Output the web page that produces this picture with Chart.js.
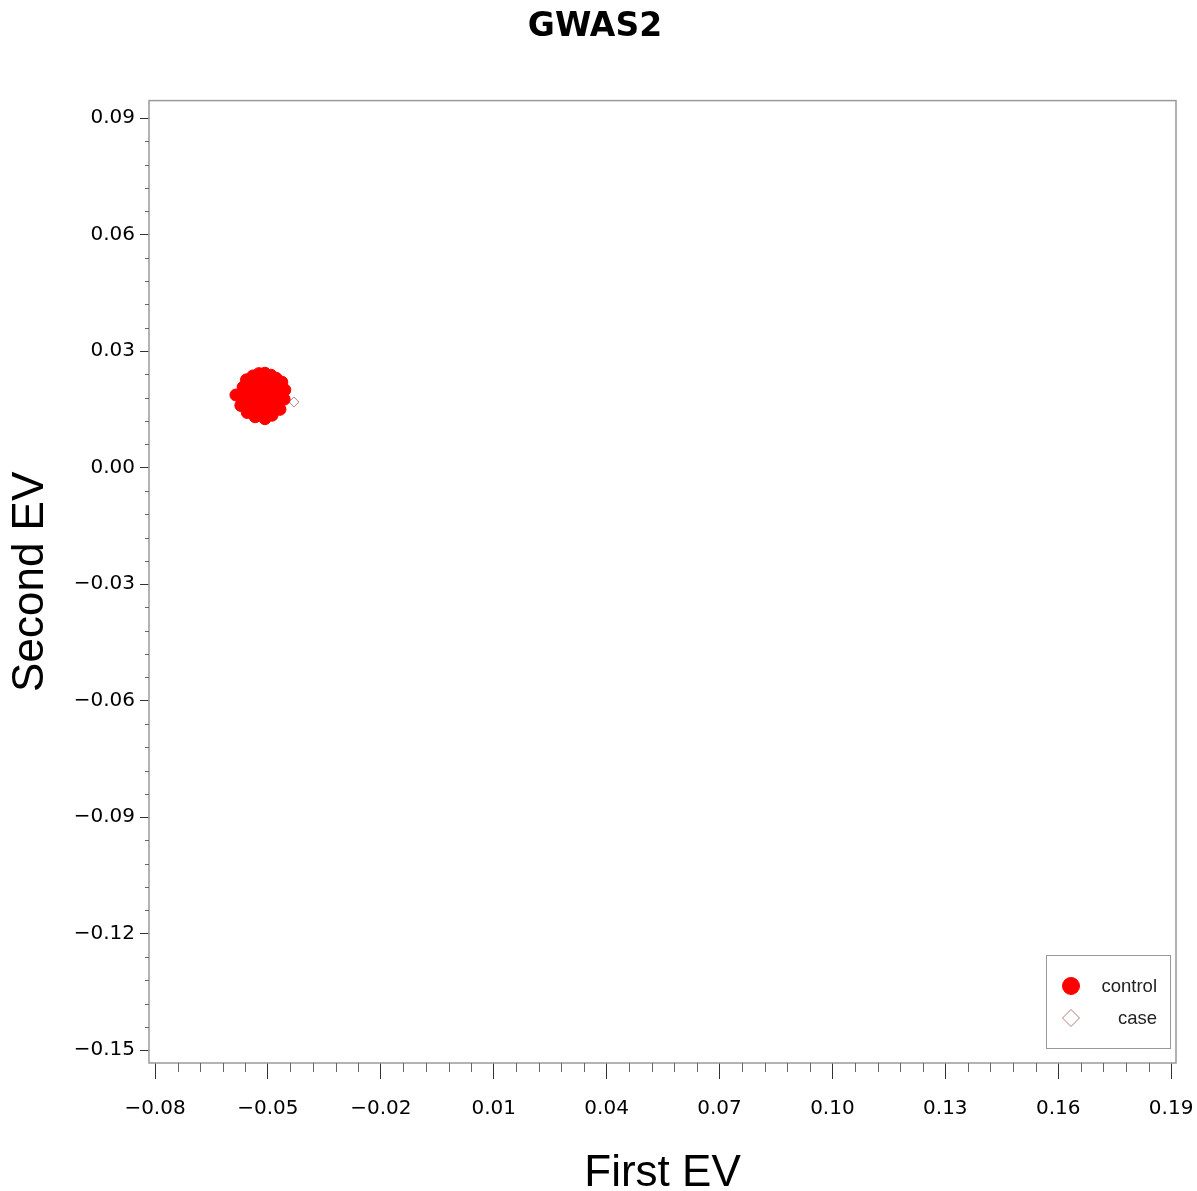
<!DOCTYPE html>
<html>
<head>
<meta charset="utf-8">
<title>GWAS2</title>
<script src="https://cdn.jsdelivr.net/npm/chart.js@4.4.1/dist/chart.umd.min.js"></script>
<style>
  html, body { margin: 0; padding: 0; background: #fff; }
  canvas { display: block; }
</style>
</head>
<body>
<canvas id="myChart" width="1197" height="1191"></canvas>
<script>
// axis ticks (major); minor ticks go in between, 4 per gap
const xTicks = [-0.08, -0.05, -0.02, 0.01, 0.04, 0.07, 0.10, 0.13, 0.16, 0.19];
const yTicks = [0.09, 0.06, 0.03, 0.00, -0.03, -0.06, -0.09, -0.12, -0.15];

// first / second eigenvector per sample
const controlX = [
  -0.0508, -0.0492, -0.0478, -0.0463, -0.0455, -0.0457, -0.0468, -0.0489, -0.0508,
  -0.0534, -0.0555, -0.0572, -0.0585, -0.0566, -0.0557, -0.0540, -0.0524,
  -0.0560, -0.0545, -0.0530, -0.0515, -0.0500, -0.0485, -0.0470, -0.0474, -0.0490,
  -0.0505, -0.0520, -0.0536, -0.0552, -0.0540, -0.0521, -0.0501, -0.0480, -0.0511,
  -0.0526, -0.0494, -0.0515, -0.0531, -0.0546, -0.0498, -0.0519, -0.0565, -0.0470, -0.0488
];
const controlY = [
  0.0243, 0.0238, 0.0230, 0.0220, 0.0200, 0.0176, 0.0150, 0.0135, 0.0126,
  0.0131, 0.0142, 0.0160, 0.0187, 0.0207, 0.0226, 0.0236, 0.0242,
  0.0190, 0.0202, 0.0216, 0.0228, 0.0216, 0.0206, 0.0194, 0.0175, 0.0164,
  0.0181, 0.0191, 0.0176, 0.0166, 0.0151, 0.0146, 0.0150, 0.0158, 0.0201,
  0.0161, 0.0191, 0.0170, 0.0197, 0.0183, 0.0229, 0.0233, 0.0175, 0.0212, 0.0145
];
const caseX = [-0.0431];
const caseY = [0.0169];

const toPoints = (xs, ys) => xs.map((x, i) => ({ x: x, y: ys[i] }));
const fmt = v => (v < -1e-9 ? '\u2212' : '') + Math.abs(v).toFixed(2);

function minorValues(major) {
  const out = [];
  const sorted = major.slice().sort((a, b) => a - b);
  for (let i = 0; i < sorted.length - 1; i++) {
    const step = (sorted[i + 1] - sorted[i]) / 5;
    for (let k = 1; k < 5; k++) out.push(sorted[i] + step * k);
  }
  return out;
}

function drawMarker(ctx, ds, radius, x, y) {
  ctx.fillStyle = ds.backgroundColor;
  ctx.strokeStyle = ds.borderColor;
  ctx.lineWidth = ds.borderWidth;
  Chart.helpers.drawPoint(ctx, { pointStyle: ds.pointStyle, radius: radius, borderWidth: ds.borderWidth }, x, y);
}

// plot frame, minor tick marks and the boxed legend in the lower right
const framePlugin = {
  id: 'frame',
  afterDraw(chart) {
    const ctx = chart.ctx;
    const a = chart.chartArea;
    const xs = chart.scales.x, ys = chart.scales.y;
    ctx.save();
    ctx.strokeStyle = '#9a9a9a';
    ctx.lineWidth = 1.5;
    ctx.strokeRect(a.left, a.top, a.right - a.left, a.bottom - a.top);

    ctx.strokeStyle = '#666';
    ctx.lineWidth = 1;
    ctx.beginPath();
    minorValues(xTicks).forEach(v => {
      const px = Math.round(xs.getPixelForValue(v)) + 0.5;
      ctx.moveTo(px, a.bottom);
      ctx.lineTo(px, a.bottom + 9);
    });
    minorValues(yTicks).forEach(v => {
      const py = Math.round(ys.getPixelForValue(v)) + 0.5;
      ctx.moveTo(a.left - 4, py);
      ctx.lineTo(a.left, py);
    });
    ctx.stroke();

    // legend
    const w = 124, h = 93;
    const lx = a.right - 6 - w, ly = a.bottom - 15 - h;
    ctx.strokeStyle = '#999';
    ctx.lineWidth = 1;
    ctx.strokeRect(lx + 0.5, ly + 0.5, w, h);
    ctx.textAlign = 'right';
    ctx.textBaseline = 'middle';
    chart.data.datasets.forEach((ds, i) => {
      const cy = ly + 31 + i * 32;
      drawMarker(ctx, ds, 8.5, lx + 25, cy);
      ctx.font = '18.5px "Liberation Sans", Arial, sans-serif';
      ctx.fillStyle = '#222';
      ctx.fillText(ds.label, lx + w - 13, cy + 1);
    });
    ctx.restore();
  }
};

const ctx = document.getElementById('myChart');

new Chart(ctx, {
  type: 'scatter',
  data: {
    datasets: [{
      label: 'control',
      data: toPoints(controlX, controlY),
      pointStyle: 'circle',
      pointRadius: 6,
      backgroundColor: '#ff0000',
      borderColor: '#ff0000',
      borderWidth: 1,
      order: 1
    }, {
      label: 'case',
      data: toPoints(caseX, caseY),
      pointStyle: 'rectRot',
      pointRadius: 5,
      backgroundColor: 'rgba(255,255,255,0)',
      borderColor: '#b97878',
      borderWidth: 1,
      order: 2
    }]
  },
  options: {
    responsive: false,
    animation: false,
    layout: { padding: { top: 0, right: 21, bottom: 0, left: 14 } },
    plugins: {
      legend: { display: false },
      tooltip: { enabled: false },
      title: {
        display: true,
        text: 'GWAS2',
        color: '#000',
        font: { family: '"DejaVu Sans", sans-serif', size: 33, weight: 'bold', lineHeight: 1.2 },
        padding: { top: 8, bottom: 53 }
      }
    },
    scales: {
      x: {
        type: 'linear',
        min: -0.0816,
        max: 0.1913,
        afterBuildTicks: s => { s.ticks = xTicks.map(v => ({ value: v })); },
        afterFit: s => { s.height = 128; s.paddingLeft = 0; s.paddingRight = 0; },
        grid: { drawOnChartArea: false, drawTicks: true, tickLength: 16, tickColor: '#333', tickWidth: 1 },
        border: { display: false },
        ticks: {
          autoSkip: false,
          maxRotation: 0,
          padding: 18,
          color: '#000',
          font: { family: '"DejaVu Sans", sans-serif', size: 20 },
          callback: v => fmt(v)
        },
        title: {
          display: true,
          text: 'First EV',
          color: '#000',
          font: { family: '"Liberation Sans", Arial, sans-serif', size: 44, lineHeight: 1 },
          padding: { top: 0, bottom: -5 }
        }
      },
      y: {
        type: 'linear',
        min: -0.1533,
        max: 0.0945,
        afterBuildTicks: s => { s.ticks = yTicks.map(v => ({ value: v })); },
        afterFit: s => { s.width = 135; s.paddingTop = 0; s.paddingBottom = 0; },
        grid: { drawOnChartArea: false, drawTicks: true, tickLength: 9, tickColor: '#333', tickWidth: 1 },
        border: { display: false },
        ticks: {
          autoSkip: false,
          padding: 5,
          color: '#000',
          font: { family: '"DejaVu Sans", sans-serif', size: 20 },
          callback: v => fmt(v)
        },
        title: {
          display: true,
          text: 'Second EV',
          color: '#000',
          font: { family: '"Liberation Sans", Arial, sans-serif', size: 44, lineHeight: 1 },
          padding: { top: -5, bottom: 0 }
        }
      }
    }
  },
  plugins: [framePlugin]
});
</script>
</body>
</html>
